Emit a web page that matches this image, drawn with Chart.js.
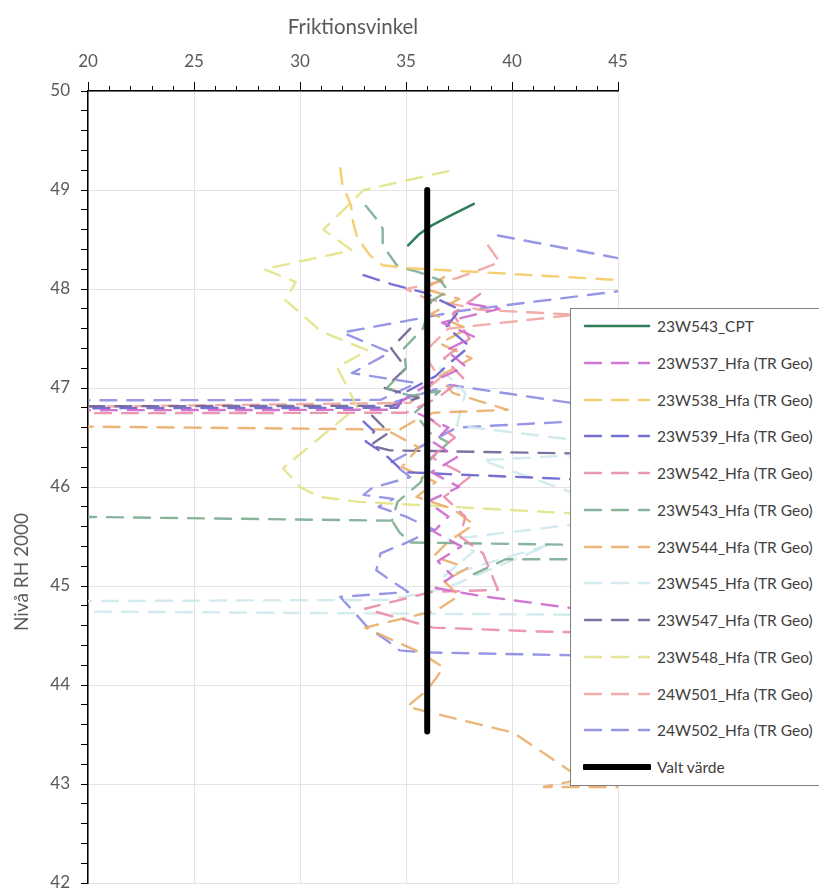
<!DOCTYPE html>
<html>
<head>
<meta charset="utf-8">
<script src="https://cdn.jsdelivr.net/npm/chart.js@4.4.1/dist/chart.umd.min.js"></script>
<style>
    body { margin: 0; background: #fff; font-family: Lato, "Open Sans", sans-serif; }
    #wrap { position: relative; width: 819px; height: 893px; overflow: hidden; }
    #legend {
        position: absolute; left: 570px; top: 308px; width: 254px; height: 478px;
        background: #fff; border: 1px solid #7f7f7f; box-sizing: border-box;
    }
    .item { position: absolute; left: 0; height: 20px; display: flex; align-items: center; }
    .item svg { margin-left: 12px; }
    .item span { margin-left: 6px; font-size: 15.5px; color: #404040; white-space: nowrap; }
</style>
</head>
<body>
<div id="wrap">
    <canvas id="chart" width="819" height="893"></canvas>
    <div id="legend"></div>
</div>
<script>
// ── Data ────────────────────────────────────────────────────

const xTitle = 'Friktionsvinkel';
const yTitle = 'Nivå RH 2000';
const xTickLabels = [20, 25, 30, 35, 40, 45];
const yTickLabels = [42, 43, 44, 45, 46, 47, 48, 49, 50];

// [friktionsvinkel, nivå]; null = break in the line
const s23W543_CPT = [[35.1, 48.44], [35.6, 48.55], [36.2, 48.64], [37.0, 48.73], [38.2, 48.86]];

const s23W537 = [[38.0, 47.85], [39.4, 47.8], [36.7, 47.66], [38.2, 47.52], [36.9, 47.38], [37.8, 47.22],
    [36.4, 47.08], [35.2, 46.93], [34.3, 46.78], [0, 46.77], null, [35.6, 46.74], [37.0, 46.6], [36.3, 46.45],
    [37.4, 46.3], [36.2, 46.15], [37.5, 46.0], [36.0, 45.85], [37.0, 45.7], [36.3, 45.55], [37.6, 45.4],
    [36.5, 45.25], [37.2, 45.1], [36.4, 44.98], [38.5, 44.9], [42.7, 44.78], [50, 44.72]];

const s23W538 = [[31.9, 49.22], [32.0, 49.05], [32.4, 48.85], [32.5, 48.68], [32.7, 48.52], [33.3, 48.34],
    [33.9, 48.24], [35.2, 48.21], [50, 48.03]];

const s23W539 = [[33.0, 48.14], [34.3, 48.05], [35.9, 47.96], [37.55, 47.79], [36.9, 47.62], [38.0, 47.42],
    [37.1, 47.26], [36.4, 47.12], [35.0, 46.96], [34.6, 46.8], [0, 46.79], null, [33.0, 46.66], [33.5, 46.56],
    [33.1, 46.46], [34.0, 46.33], [34.9, 46.15], [37.0, 46.13], [42.7, 46.08], [50, 46.02]];

const s23W542 = [[38.5, 47.95], [37.2, 47.75], [38.0, 47.5], [36.8, 47.3], [37.7, 47.1], [36.5, 46.9],
    [35.0, 46.75], [0, 46.74], null, [36.0, 46.71], [37.3, 46.5], [36.2, 46.3], [38.0, 46.1], [36.8, 45.9],
    [37.8, 45.7], [37.55, 45.5], [38.63, 45.33], [39.34, 44.96], [36.2, 44.94], [33.07, 44.77],
    [36.27, 44.58], [41.3, 44.54], [50, 44.5]];

const s23W543 = [[33.1, 48.84], [33.6, 48.71], [33.9, 48.61], [33.9, 48.46], [34.1, 48.38], [34.6, 48.23],
    [35.6, 48.17], [36.6, 48.09], [37.0, 47.98], [36.2, 47.88], [35.8, 47.6], [34.9, 47.4], [35.0, 47.2],
    [34.1, 47.0], [35.2, 46.92], [36.6, 46.97], [35.4, 46.75], [36.1, 46.55], [37.0, 46.45], [36.0, 46.25],
    [35.7, 46.05], [34.6, 45.85], [34.34, 45.66], [0, 45.75], null, [34.4, 45.64], [34.7, 45.54], [35.2, 45.44],
    [45, 45.41], [65, 45.27], [39.7, 45.27], [38.2, 45.12]];

const s23W544 = [[36.8, 48.12], [35.9, 48.0], [37.5, 47.9], [36.2, 47.75], [37.9, 47.6], [36.6, 47.45],
    [38.1, 47.3], [36.6, 47.12], [37.2, 46.95], [39.8, 46.78], [36.3, 46.75], [35.5, 46.68], [34.7, 46.58],
    [0, 46.65], null, [34.3, 46.55], [35.6, 46.4], [34.8, 46.2], [36.4, 46.05], [35.5, 45.9], [37.2, 45.78],
    [38.2, 45.62], [37.0, 45.45], [36.3, 45.3], [37.9, 45.18], [36.8, 45.05], [37.5, 44.9], [36.4, 44.75],
    [33.07, 44.58], [34.4, 44.45], [35.66, 44.33], [36.75, 44.18], [36.46, 44.08], [36.0, 43.95],
    [35.05, 43.78], [36.0, 43.73], [38.5, 43.6], [40.05, 43.52], [41.3, 43.34], [43.3, 43.05],
    [41.5, 42.97], [50, 42.97]];

const s23W545 = [[36.6, 47.2], [37.8, 46.95], [37.4, 46.62], [47, 46.37], [38.6, 46.27], [46, 45.7],
    [37.0, 45.47], [38.2, 45.35], [36.8, 45.1], [41.8, 45.42], [36.9, 44.98], [34.25, 44.86], [0, 44.83],
    [0, 44.77], [50, 44.7]];

const s23W547 = [[35.2, 47.6], [34.3, 47.4], [35.0, 47.2], [34.0, 47.0], [35.6, 46.9], [34.3, 46.82],
    [0, 46.81], null, [33.4, 46.72], [34.2, 46.55], [33.3, 46.42], [34.25, 46.37], [42.7, 46.34], [50, 46.3]];

const s23W548 = [[37.0, 49.19], [33.0, 49.0], [32.2, 48.83], [31.1, 48.6], [32.45, 48.39], [28.3, 48.2],
    [29.8, 48.07], [29.3, 47.89], [31.0, 47.57], [33.2, 47.38], [31.75, 47.21], [32.7, 46.81], [29.2, 46.19],
    [30.0, 46.0], [30.9, 45.9], [32.8, 45.85], [42.3, 45.74], [50, 45.68]];

const s24W501 = [[38.87, 48.44], [39.43, 48.27], [37.4, 48.11], [35.0, 48.0], [36.0, 47.9], [38.5, 47.79],
    [43.0, 47.74], [37.0, 47.6], [35.8, 47.35], [36.6, 47.1], [35.2, 46.85], [0, 46.76]];

const s24W502 = [[39.34, 48.54], [50, 48.11], [37.6, 47.78], [32.0, 47.56], [34.25, 47.36], [32.45, 47.15],
    [35.5, 47.05], [33.8, 46.88], [0, 46.87], null, [34.5, 46.86], [37.08, 47.03], [47.2, 46.71], [37.4, 46.6],
    [35.8, 46.42], [34.3, 46.25], [35.2, 46.1], [33.4, 45.99], [33.0, 45.92], [34.4, 45.88], [33.7, 45.8],
    [35.0, 45.7], [36.3, 45.57], [35.05, 45.44], [33.8, 45.33], [33.6, 45.16], [34.25, 45.06], [35.1, 44.94],
    [31.9, 44.89], [32.45, 44.76], [33.2, 44.58], [34.1, 44.45], [34.7, 44.35], [35.8, 44.33], [50, 44.27]];

const valtVarde = [[36, 49.0], [36, 43.53]];

// ── Styles ──────────────────────────────────────────────────

const X_MIN = 20, X_MAX = 45, Y_MIN = 42, Y_MAX = 50;
const DASH = [16, 11];
const TEXT = '#595959';

const hfaSeries = [
    ['23W537_Hfa (TR Geo)', s23W537, 'rgba(204,104,204,0.9)'],
    ['23W538_Hfa (TR Geo)', s23W538, 'rgba(244,202,100,0.9)'],
    ['23W539_Hfa (TR Geo)', s23W539, 'rgba(104,96,206,0.9)'],
    ['23W542_Hfa (TR Geo)', s23W542, 'rgba(234,140,170,0.9)'],
    ['23W543_Hfa (TR Geo)', s23W543, 'rgba(122,172,144,0.9)'],
    ['23W544_Hfa (TR Geo)', s23W544, 'rgba(234,174,108,0.9)'],
    ['23W545_Hfa (TR Geo)', s23W545, 'rgba(206,232,236,0.9)'],
    ['23W547_Hfa (TR Geo)', s23W547, 'rgba(108,100,150,0.9)'],
    ['23W548_Hfa (TR Geo)', s23W548, 'rgba(226,226,136,0.9)'],
    ['24W501_Hfa (TR Geo)', s24W501, 'rgba(240,164,158,0.9)'],
    ['24W502_Hfa (TR Geo)', s24W502, 'rgba(140,140,226,0.9)'],
];

const toPts = arr => arr.map(p => (p ? { x: p[0], y: p[1] } : { x: null, y: null }));
const isMajorX = v => Math.abs(v % 5) < 1e-6;
const isMajorY = v => Math.abs(v - Math.round(v)) < 1e-6;

const common = {
    showLine: true, spanGaps: false, pointRadius: 0, pointHoverRadius: 0, fill: false,
    tension: 0, clip: 0, borderJoinStyle: 'round',
};

const datasets = [
    { ...common, label: '23W543_CPT', data: toPts(s23W543_CPT), borderColor: '#2e7d5b',
      borderWidth: 2.5, borderDash: [], borderCapStyle: 'round' },
    ...hfaSeries.map(([label, pts, color]) => ({
        ...common, label, data: toPts(pts), borderColor: color,
        borderWidth: 2.4, borderDash: DASH, borderCapStyle: 'round',
    })),
    { ...common, label: 'Valt värde', data: toPts(valtVarde), borderColor: '#000',
      borderWidth: 6, borderDash: [], borderCapStyle: 'round', order: -1 },
];

// ── Plugins ─────────────────────────────────────────────────

// short minor ticks on the top axis + rotated y title
const extras = {
    id: 'extras',
    afterDraw(chart) {
        const { ctx, chartArea, scales } = chart;
        ctx.save();
        ctx.strokeStyle = '#000';
        ctx.lineWidth = 1;
        for (let v = X_MIN; v <= X_MAX; v++) {
            if (isMajorX(v)) continue;
            const px = Math.round(scales.x.getPixelForValue(v)) + 0.5;
            ctx.beginPath();
            ctx.moveTo(px, chartArea.top);
            ctx.lineTo(px, chartArea.top - 5);
            ctx.stroke();
        }
        ctx.fillStyle = TEXT;
        ctx.font = '19px Lato, "Open Sans", sans-serif';
        ctx.textAlign = 'center';
        ctx.textBaseline = 'middle';
        ctx.translate(22, 572);
        ctx.rotate(-Math.PI / 2);
        ctx.fillText(yTitle, 0, 0);
        ctx.restore();
    }
};

// ── Chart ───────────────────────────────────────────────────

Chart.defaults.font.family = 'Lato, "Open Sans", sans-serif';
Chart.defaults.color = TEXT;

const chart = new Chart(document.getElementById('chart'), {
    type: 'scatter',
    data: { datasets },
    plugins: [extras],
    options: {
        responsive: false,
        animation: false,
        events: [],
        devicePixelRatio: 1,
        layout: { padding: { top: 0, left: 0, right: 201, bottom: 10 } },
        plugins: { legend: { display: false }, tooltip: { enabled: false } },
        scales: {
            x: {
                type: 'linear', position: 'top', min: X_MIN, max: X_MAX,
                afterBuildTicks(scale) {
                    const t = [];
                    for (let v = X_MIN; v <= X_MAX; v++) t.push({ value: v });
                    scale.ticks = t;
                },
                afterFit(scale) { scale.height = 91; },
                ticks: {
                    autoSkip: false, maxRotation: 0, padding: 10,
                    font: { size: 17 }, color: TEXT,
                    callback: v => (xTickLabels.includes(v) ? String(v) : ''),
                },
                grid: {
                    color: c => (isMajorX(c.tick.value) ? '#e3e3e3' : 'rgba(0,0,0,0)'),
                    tickColor: c => (isMajorX(c.tick.value) ? '#000' : 'rgba(0,0,0,0)'),
                    tickLength: 9, lineWidth: 1,
                },
                border: { display: true, color: '#000', width: 1.5 },
                title: { display: true, text: xTitle, font: { size: 20.5 }, color: TEXT, padding: { top: 15, bottom: 0 } },
            },
            y: {
                type: 'linear', position: 'left', min: Y_MIN, max: Y_MAX,
                afterBuildTicks(scale) {
                    const t = [];
                    for (let i = 0; i <= 40; i++) t.push({ value: Math.round((Y_MIN + i * 0.2) * 10) / 10 });
                    scale.ticks = t;
                },
                afterFit(scale) {
                    scale.width = 88;
                    // keep the plot area down to the bottom edge
                    scale.paddingTop = 0;
                    scale.paddingBottom = 0;
                },
                ticks: {
                    autoSkip: false, padding: 11,
                    font: { size: 17 }, color: TEXT,
                    callback: v => (isMajorY(v) && yTickLabels.includes(Math.round(v)) ? String(Math.round(v)) : ''),
                },
                grid: {
                    color: c => (isMajorY(c.tick.value) ? '#e3e3e3' : 'rgba(0,0,0,0)'),
                    tickColor: '#000',
                    tickLength: 7, lineWidth: 1,
                },
                border: { display: true, color: '#000', width: 1.5 },
            },
        },
    },
});

// ── Legend (overlay box) ────────────────────────────────────

const legendEl = document.getElementById('legend');
chart.data.datasets.forEach((ds, i) => {
    const item = document.createElement('div');
    item.className = 'item';
    item.style.top = (7 + i * 36.75) + 'px';
    const dash = ds.borderDash.length ? `stroke-dasharray="${ds.borderDash.join(' ')}"` : '';
    item.innerHTML =
        `<svg width="68" height="20"><line x1="2" y1="10" x2="66" y2="10" stroke="${ds.borderColor}" ` +
        `stroke-width="${ds.borderWidth}" stroke-linecap="round" ${dash}/></svg><span>${ds.label}</span>`;
    legendEl.appendChild(item);
});
</script>
</body>
</html>
